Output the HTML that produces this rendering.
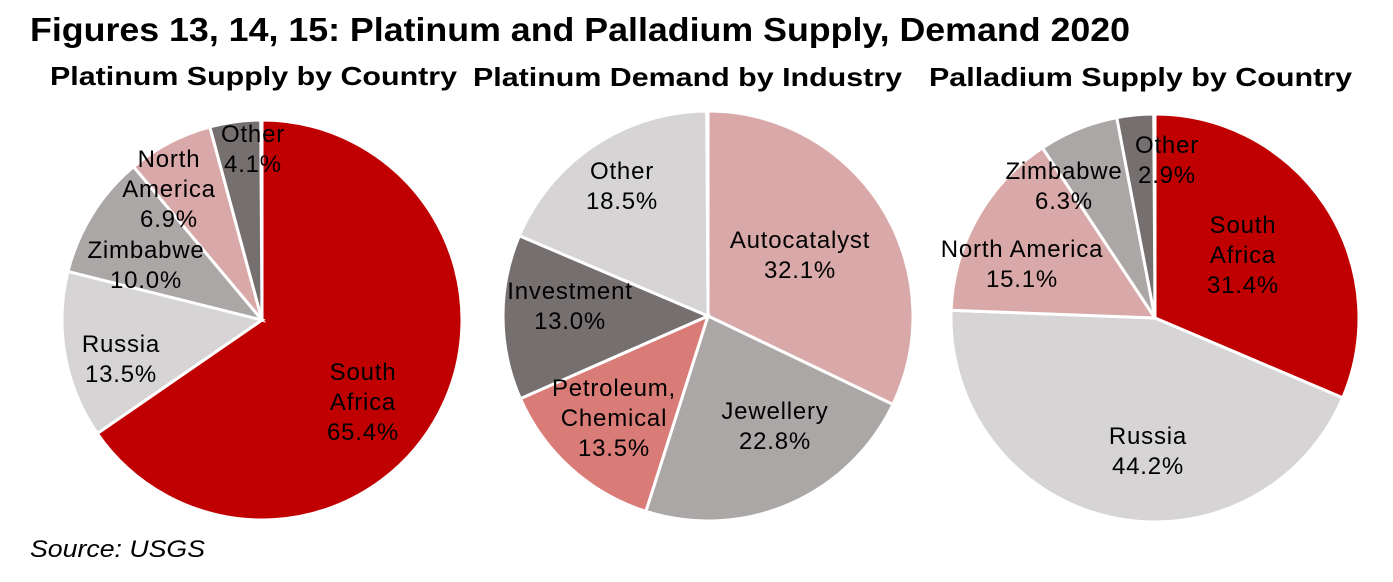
<!DOCTYPE html>
<html><head><meta charset="utf-8">
<style>
html,body{margin:0;padding:0;background:#fff;}
svg{display:block;}
text{font-family:"Liberation Sans",Arial,sans-serif;}
</style></head>
<body>
<svg id="s" width="1393" height="582" viewBox="0 0 1393 582" xmlns="http://www.w3.org/2000/svg">
<g id="pies"></g>
<text x="30" y="41" font-size="33" font-weight="bold" fill="#000" textLength="1100" lengthAdjust="spacingAndGlyphs">Figures 13, 14, 15: Platinum and Palladium Supply, Demand 2020</text>
<g font-size="26" font-weight="bold" fill="#000">
<text x="50" y="85" textLength="407" lengthAdjust="spacingAndGlyphs">Platinum Supply by Country</text>
<text x="473" y="86" textLength="429" lengthAdjust="spacingAndGlyphs">Platinum Demand by Industry</text>
<text x="929" y="86" textLength="423" lengthAdjust="spacingAndGlyphs">Palladium Supply by Country</text>
</g>
<g font-size="24" letter-spacing="0.8" text-anchor="middle" fill="#000">
<text x="363" y="380">South</text><text x="363" y="410">Africa</text><text x="363" y="440">65.4%</text>
<text x="121" y="352">Russia</text><text x="121" y="382">13.5%</text>
<text x="146" y="258">Zimbabwe</text><text x="146" y="288">10.0%</text>
<text x="169" y="167">North</text><text x="169" y="197">America</text><text x="169" y="227">6.9%</text>
<text x="253" y="142">Other</text><text x="253" y="172">4.1%</text>

<text x="622" y="179">Other</text><text x="622" y="209">18.5%</text>
<text x="800" y="248">Autocatalyst</text><text x="800" y="278">32.1%</text>
<text x="570" y="299">Investment</text><text x="570" y="329">13.0%</text>
<text x="614" y="396">Petroleum,</text><text x="614" y="426">Chemical</text><text x="614" y="456">13.5%</text>
<text x="775" y="419">Jewellery</text><text x="775" y="449">22.8%</text>

<text x="1167" y="153">Other</text><text x="1167" y="183">2.9%</text>
<text x="1064" y="179">Zimbabwe</text><text x="1064" y="209">6.3%</text>
<text x="1243" y="233">South</text><text x="1243" y="263">Africa</text><text x="1243" y="293">31.4%</text>
<text x="1022" y="257">North America</text><text x="1022" y="287">15.1%</text>
<text x="1148" y="444">Russia</text><text x="1148" y="474">44.2%</text>
</g>
<text x="30" y="557" font-size="24" font-style="italic" fill="#000" textLength="175" lengthAdjust="spacingAndGlyphs">Source: USGS</text>
</svg>
<script>
var pies=[
 {cx:262,cy:320,r:200,d:[[65.4,"#C00000"],[13.5,"#D6D4D4"],[10.0,"#AAA7A6"],[6.9,"#D8A9A8"],[4.1,"#75706F"]]},
 {cx:708,cy:316,r:205,d:[[32.1,"#D8A9A8"],[22.8,"#AAA7A6"],[13.5,"#D97B77"],[13.0,"#75706F"],[18.5,"#D6D4D4"]]},
 {cx:1155,cy:318,r:204,d:[[31.4,"#C00000"],[44.2,"#D6D4D4"],[15.1,"#D8A9A8"],[6.3,"#AAA7A6"],[2.9,"#75706F"]]}
];
var g=document.getElementById("pies"),ns="http://www.w3.org/2000/svg";
pies.forEach(function(p){
 var a=0;
 p.d.forEach(function(s){
  var a0=a/100*2*Math.PI,a1=(a+s[0])/100*2*Math.PI;a+=s[0];
  var x0=p.cx+p.r*Math.sin(a0),y0=p.cy-p.r*Math.cos(a0);
  var x1=p.cx+p.r*Math.sin(a1),y1=p.cy-p.r*Math.cos(a1);
  var large=(a1-a0)>Math.PI?1:0;
  var e=document.createElementNS(ns,"path");
  e.setAttribute("d","M"+p.cx+","+p.cy+"L"+x0+","+y0+"A"+p.r+","+p.r+" 0 "+large+" 1 "+x1+","+y1+"Z");
  e.setAttribute("fill",s[1]);e.setAttribute("stroke","#fff");e.setAttribute("stroke-width","3");
  g.appendChild(e);
 });
});
</script>
</body></html>
